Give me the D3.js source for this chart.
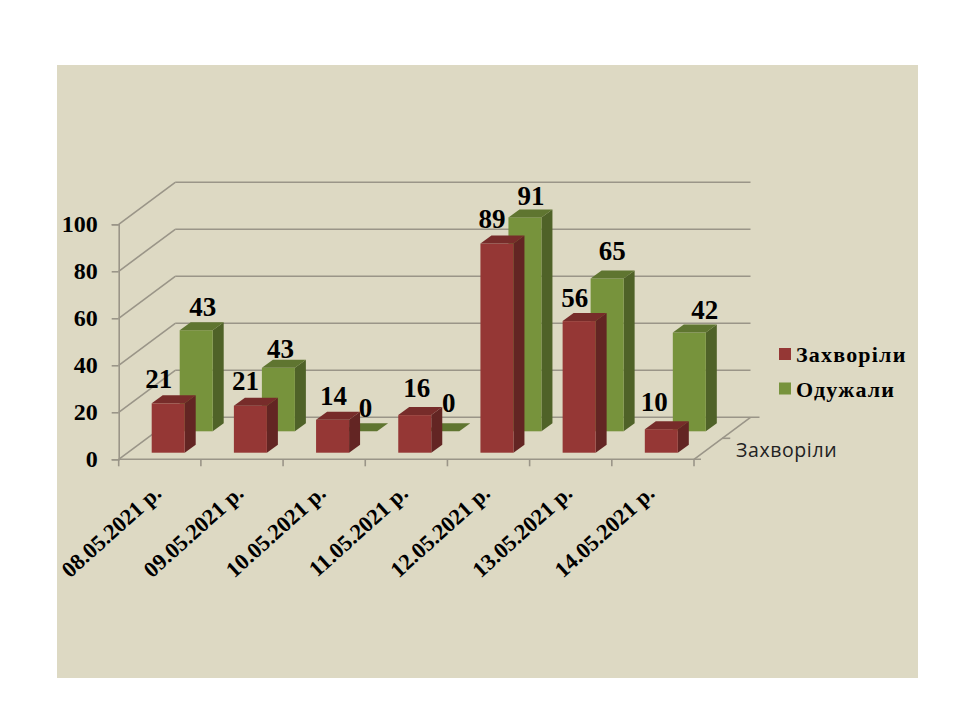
<!DOCTYPE html>
<html><head><meta charset="utf-8">
<script src="https://cdn.jsdelivr.net/npm/d3@7/dist/d3.min.js"></script>
<style>html,body{margin:0;padding:0;background:#fff}svg{display:block}</style>
</head><body><svg id="c" width="960" height="720"></svg>
<script>
const categories = ["08.05.2021 р.","09.05.2021 р.","10.05.2021 р.","11.05.2021 р.","12.05.2021 р.","13.05.2021 р.","14.05.2021 р."];
const illValues = [21,20,14,16,89,56,10];
const recoveredValues = [43,27,0,0,91,65,42];
const illLabels = ["21","21","14","16","89","56","10"];
const recoveredLabels = ["43","43","0","0","91","65","42"];
const seriesNames = ["Захворіли","Одужали"];
const yTicks = [0,20,40,60,80,100];

// hand-placed label offsets in the source chart: [dx from bar centre, dy above bar top]
const illNudge = [[-9.5,15.5],[-5,15.5],[1,14.5],[2,18],[-5,16],[-4.5,14.5],[-7,18.5]];
const recNudge = [[6.5,14],[2,10],[5,14.5],[6,19],[6,12],[5,19],[15.5,13.5]];

const svg = d3.select("#c");
const PAL = {
  ill:{front:"#953735",top:"#772c2a",side:"#632523"},
  rec:{front:"#77933c",top:"#5f7530",side:"#4f6228"}
};
svg.append("rect").attr("x",57).attr("y",65).attr("width",861).attr("height",613).attr("fill","#ddd9c3");

const L=118.7,R=694,Y0=459.3,Y100=224.3,DX=56.5,DY=-42;
const x = d3.scaleBand().domain(categories).range([L,R]);
const y = d3.scaleLinear().domain([0,100]).range([Y0,Y100]);
const h = d3.scaleLinear().domain([0,100]).range([0,Y0-Y100]);
const GRID="#9a9588", serif="'Liberation Serif','Times New Roman',serif";

// walls
const wall = svg.append("g").attr("fill","none").attr("stroke",GRID).attr("stroke-width",1.6);
yTicks.forEach(t=>{
  const yy=y(t);
  wall.append("line").attr("x1",L).attr("y1",yy).attr("x2",L+DX).attr("y2",yy+DY);
  wall.append("line").attr("x1",L+DX).attr("y1",yy+DY).attr("x2",R+DX+(t===0?9:0)).attr("y2",yy+DY);
});
wall.append("line").attr("x1",R).attr("y1",Y0).attr("x2",R+DX).attr("y2",Y0+DY);
wall.append("line").attr("x1",R+DX/2).attr("y1",Y0+DY/2).attr("x2",R+DX/2+8).attr("y2",Y0+DY/2);
wall.append("line").attr("x1",L).attr("y1",Y0).attr("x2",R+7).attr("y2",Y0);
categories.concat([null]).forEach((c,i)=>{
  const xx=L+i*x.step();
  wall.append("line").attr("x1",xx).attr("y1",Y0).attr("x2",xx).attr("y2",Y0+7);
});

// y axis
const yAxis = svg.append("g").attr("transform",`translate(${L},0)`)
  .call(d3.axisLeft(y).tickValues(yTicks).tickSize(7).tickPadding(14));
yAxis.select(".domain").attr("stroke",GRID).attr("stroke-width",1.6);
yAxis.selectAll(".tick line").attr("stroke",GRID).attr("stroke-width",1.6);
yAxis.selectAll("text").attr("font-family",serif).attr("font-weight","bold").attr("font-size",24).attr("fill","#000");

// bars
const BW=33, D=[11,-8];
function bars(vals,pal,off,bottom){
  const g=svg.append("g");
  vals.forEach((v,i)=>{
    const x0=x(categories[i])+off, x1=x0+BW, top=bottom-h(v);
    const pt=a=>a.map(p=>p.join(",")).join(" ");
    g.append("polygon").attr("points",pt([[x1,bottom],[x1+D[0],bottom+D[1]],[x1+D[0],top+D[1]],[x1,top]])).attr("fill",pal.side);
    g.append("rect").attr("x",x0).attr("y",top).attr("width",BW).attr("height",h(v)).attr("fill",pal.front);
    g.append("polygon").attr("points",pt([[x0,top],[x1,top],[x1+D[0],top+D[1]],[x0+D[0],top+D[1]]])).attr("fill",pal.top);
  });
}
const RED_OFF=33, GREEN_OFF=61, RED_BASE=452.7, GREEN_BASE=431.3;
bars(recoveredValues,PAL.rec,GREEN_OFF,GREEN_BASE);
bars(illValues,PAL.ill,RED_OFF,RED_BASE);

// data labels
function labels(vals,txt,off,bottom,nudge){
  svg.append("g").selectAll("text").data(vals).join("text")
    .attr("x",(d,i)=>x(categories[i])+off+BW/2+nudge[i][0])
    .attr("y",(d,i)=>bottom-h(d)-nudge[i][1])
    .attr("text-anchor","middle").attr("font-family",serif).attr("font-weight","bold")
    .attr("font-size",27).attr("fill","#000").text((d,i)=>txt[i]);
}
labels(recoveredValues,recoveredLabels,GREEN_OFF,GREEN_BASE,recNudge);
labels(illValues,illLabels,RED_OFF,RED_BASE,illNudge);

// category labels
svg.append("g").selectAll("text").data(categories).join("text")
  .attr("transform",d=>`translate(${x(d)+x.bandwidth()/2+3},${495}) rotate(-42)`)
  .attr("text-anchor","end").attr("font-family",serif).attr("font-weight","bold")
  .attr("font-size",22.5).attr("fill","#000").text(d=>d);

// legend
const lg=svg.append("g");
seriesNames.forEach((n,i)=>{
  const yy=[348,382.5][i];
  lg.append("rect").attr("x",779).attr("y",yy).attr("width",12).attr("height",12).attr("fill",[PAL.ill.front,PAL.rec.front][i]);
  lg.append("text").attr("x",796).attr("y",yy+14).attr("font-family",serif).attr("font-weight","bold")
    .attr("font-size",22).attr("letter-spacing",1.2).attr("fill","#000").text(n);
});
// depth axis label
svg.append("text").attr("x",736).attr("y",456.5).attr("font-family","'Open Sans',sans-serif")
  .attr("font-size",19.5).attr("letter-spacing",0.6).attr("fill","#222").text(seriesNames[0]);
</script></body></html>
